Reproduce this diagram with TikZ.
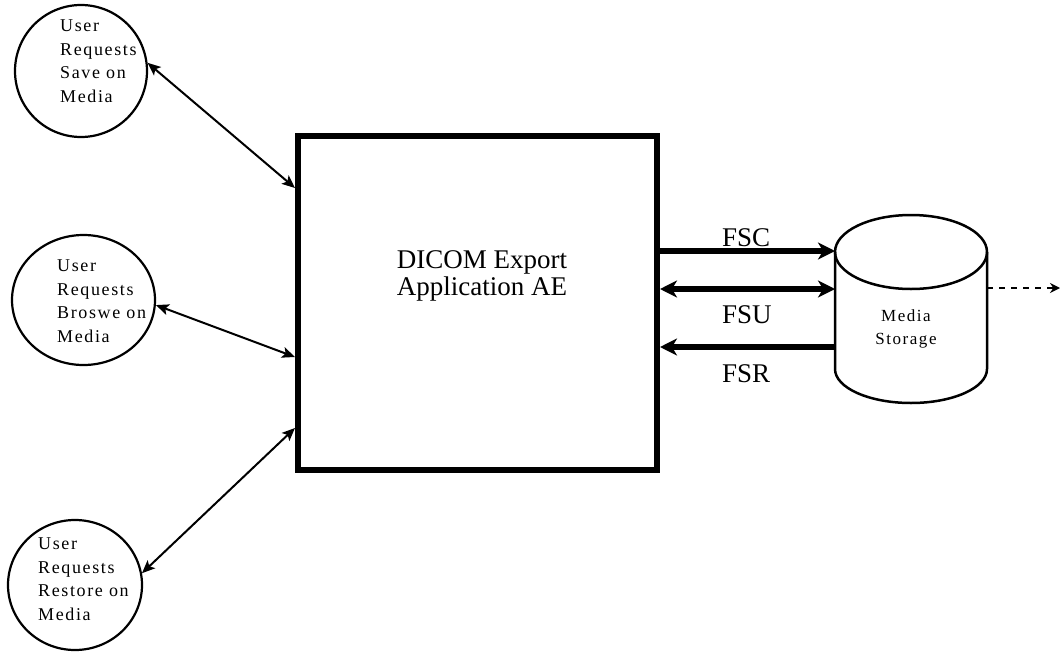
\documentclass[tikz,border=0pt]{standalone}
\usepackage{fontspec}
\setmainfont{Liberation Serif}
\newfontfamily\spacedserif[LetterSpace=9]{Liberation Serif}
\usetikzlibrary{arrows.meta,shapes.geometric}

\tikzset{
  userbubble/.style={draw, ellipse, line width=2.2pt, inner sep=0pt},
  bubbletext/.style={anchor=north west, inner sep=0pt, align=left,
    font=\spacedserif\fontsize{18}{23.5}\selectfont},
  aebox/.style={draw, rectangle, line width=6pt, inner sep=0pt},
  bigtext/.style={inner sep=0pt, font=\fontsize{27}{27}\selectfont},
  userlink/.style={line width=2pt, {Stealth[length=13pt,width=11pt,inset=3pt]}-{Stealth[length=13pt,width=11pt,inset=3pt]}},
  fslink/.style={line width=6pt},
  fstip/.tip={Stealth[length=17pt,width=17pt,inset=5pt]},
  cylline/.style={line width=2.5pt},
  mediatext/.style={inner sep=0pt, align=center,
    font=\spacedserif\fontsize{17}{23}\selectfont},
  extlink/.style={line width=2pt, dash pattern=on 6pt off 6pt,
    -{Stealth[length=10pt,width=10pt]}},
}

\begin{document}
\begin{tikzpicture}[x=1pt,y=-1pt]
  \useasboundingbox (0,0) rectangle (1060,653);

  % user request bubbles
  \node[userbubble, minimum width=132pt, minimum height=132pt] (save) at (81,71) {};
  \node[bubbletext] (savetxt) at (60,20) {User\\Requests\\Save on\\Media};

  \node[userbubble, minimum width=143pt, minimum height=130pt] (browse) at (83.5,300) {};
  \node[bubbletext] (browsetxt) at (57,260) {User\\Requests\\Broswe on\\Media};

  \node[userbubble, minimum width=134pt, minimum height=130pt] (restore) at (75,585) {};
  \node[bubbletext] (restoretxt) at (38,538) {User\\Requests\\Restore on\\Media};

  % application entity
  \node[aebox, minimum width=359pt, minimum height=334pt] (ae) at (477.5,303) {};
  \node[bigtext, anchor=north, align=center] (aetxt) at (482,250) {DICOM Export\\Application AE};

  % media storage cylinder
  \draw[cylline] (911,252) ellipse [x radius=76, y radius=37];
  \draw[cylline] (835,252) -- (835,369) arc [start angle=180, end angle=0, x radius=76, y radius=34] -- (987,252);
  \coordinate (cylW) at (835,300);
  \coordinate (cylE) at (987,300);
  \node[mediatext, anchor=north] (mediatxt) at (906,309) {Media\\Storage};

  % connectors between users and the AE
  \coordinate (y1) at (0,188);
  \coordinate (y2) at (0,357);
  \coordinate (y3) at (0,428);
  \draw[userlink] (save.7) -- (ae.west |- y1);
  \draw[userlink] (browse.-4) -- (ae.west |- y2);
  \draw[userlink] (ae.west |- y3) -- (restore.10);

  % file-set roles
  \coordinate (yfsc) at (0,251);
  \coordinate (yfsu) at (0,289);
  \coordinate (yfsr) at (0,347);
  \draw[fslink, -fstip] (ae.east |- yfsc) -- (cylW |- yfsc);
  \draw[fslink, fstip-fstip] (ae.east |- yfsu) -- (cylW |- yfsu);
  \draw[fslink, -fstip] (cylW |- yfsr) -- (ae.east |- yfsr);
  \node[bigtext, anchor=base west] (fsc) at (722,246) {FSC};
  \node[bigtext, anchor=base west] (fsu) at (722,323) {FSU};
  \node[bigtext, anchor=base west] (fsr) at (722,382) {FSR};

  % outgoing media
  \coordinate (mediaout) at (1060,288);
  \draw[extlink] (cylE |- mediaout) -- (mediaout);
\end{tikzpicture}
\end{document}
